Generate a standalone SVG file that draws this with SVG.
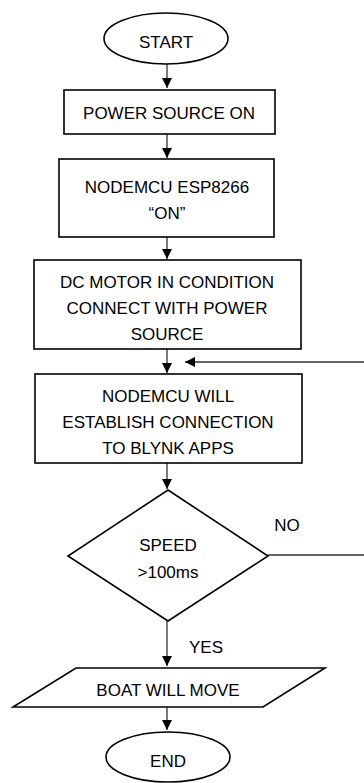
<svg xmlns="http://www.w3.org/2000/svg" width="364" height="783" viewBox="0 0 364 783">
<style>
.s{fill:#fff;stroke:#000;stroke-width:1.6}
.t{font-family:"Liberation Sans",Arial,sans-serif;font-size:17px;fill:#000;text-anchor:middle}
.c{fill:none;stroke:#333;stroke-width:1.3}
</style>
<defs>
<marker id="ah" viewBox="0 0 10 10" refX="10" refY="5" markerWidth="10" markerHeight="10" markerUnits="userSpaceOnUse" orient="auto">
<path d="M0,0 L10,5 L0,10 Z" fill="#000"/>
</marker>
</defs>
<g id="connectors">
<line class="c" x1="167" y1="64" x2="167" y2="88" marker-end="url(#ah)"/>
<line class="c" x1="167" y1="134" x2="167" y2="158" marker-end="url(#ah)"/>
<line class="c" x1="167" y1="237" x2="167" y2="259" marker-end="url(#ah)"/>
<line class="c" x1="167" y1="349" x2="167" y2="373" marker-end="url(#ah)"/>
<line class="c" x1="364" y1="362" x2="185" y2="362" marker-end="url(#ah)"/>
<line class="c" x1="167" y1="463" x2="167" y2="489" marker-end="url(#ah)"/>
<line class="c" x1="268" y1="555" x2="364" y2="555"/>
<line class="c" x1="167" y1="621" x2="167" y2="666" marker-end="url(#ah)"/>
<line class="c" x1="167" y1="707" x2="167" y2="730" marker-end="url(#ah)"/>
<text class="t" x="287" y="531">NO</text>
<text class="t" x="206" y="653">YES</text>
</g>
<g id="start">
<ellipse class="s" cx="166" cy="38.5" rx="62" ry="25.5"/>
<text class="t" x="166" y="48">START</text>
</g>
<g id="power">
<rect class="s" x="64" y="90" width="211" height="44"/>
<text class="t" x="169" y="119">POWER SOURCE ON</text>
</g>
<g id="esp">
<rect class="s" x="59" y="159" width="215" height="78"/>
<text class="t" x="167" y="193">NODEMCU ESP8266</text>
<text class="t" x="167" y="219">“ON”</text>
</g>
<g id="motor">
<rect class="s" x="34" y="260" width="267" height="89"/>
<text class="t" x="167" y="288">DC MOTOR IN CONDITION</text>
<text class="t" x="167" y="314">CONNECT WITH POWER</text>
<text class="t" x="167" y="340">SOURCE</text>
</g>
<g id="blynk">
<rect class="s" x="35" y="374" width="267" height="89"/>
<text class="t" x="168" y="402">NODEMCU WILL</text>
<text class="t" x="168" y="428">ESTABLISH CONNECTION</text>
<text class="t" x="168" y="454">TO BLYNK APPS</text>
</g>
<g id="speed">
<polygon class="s" points="168,490 268,556 168,621 68,556"/>
<text class="t" x="168" y="551">SPEED</text>
<text class="t" x="168" y="578">&gt;100ms</text>
</g>
<g id="move">
<polygon class="s" points="76,668 325,668 263,707 13,707"/>
<text class="t" x="168" y="696">BOAT WILL MOVE</text>
</g>
<g id="end">
<ellipse class="s" cx="168" cy="757" rx="62" ry="25"/>
<text class="t" x="168" y="767">END</text>
</g>
</svg>
